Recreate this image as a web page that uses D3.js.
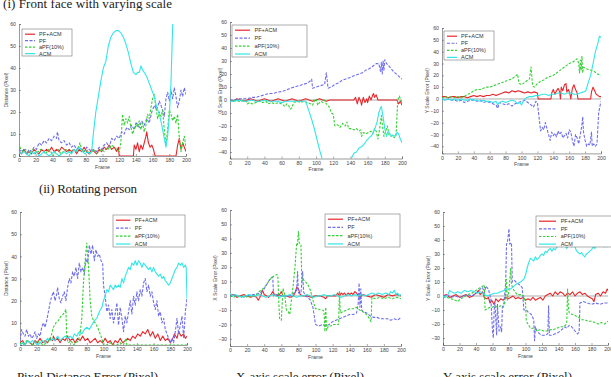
<!DOCTYPE html>
<html><head><meta charset="utf-8">
<script src="https://cdn.jsdelivr.net/npm/d3@7"></script>
<style>body{margin:0;background:#fff}svg{display:block}</style>
</head><body>
<svg id="c" width="611" height="377"></svg>
<script>
const seriesNames = ["PF+ACM","PF","aPF(10%)","ACM"];
const frameTicks = [0,20,40,60,80,100,120,140,160,180,200];
const ticksDist = [0,10,20,30,40,50,60];
const ticksTop = [-40,-30,-20,-10,0,10,20,30,40,50,60];
const ticksBot = [-30,-20,-10,0,10,20,30,40,50,60];
const titles = ["(i)  Front  face  with  varying  scale","(ii)  Rotating  person"];
const captions = ["Pixel  Distance  Error  (Pixel)","X-axis  scale  error  (Pixel)","Y-axis  scale  error  (Pixel)"];
const yLabels = ["Distance (Pixel)","X Scale Error (Pixel)","Y Scale Error (Pixel)"];

// ---- panel 1: front face, distance
const p1_pfacm=[[0,2],[3,1],[6,3],[9,1],[12,2],[15,1],[18,3],[21,2],[24,1],[27,3],[30,2],[33,3],[36,2],[39,4],[42,2],[45,3],[48,2],[51,4],[54,3],[57,2],[60,3],[63,2],[66,3],[69,1],[72,3],[75,2],[78,4],[81,2],[84,1],[87,3],[90,2],[93,1],[96,3],[99,2],[102,4],[105,3],[108,5],[111,3],[114,4],[117,2],[119,4],[120,0],[137,0],[138,5],[140,3],[142,6],[144,2],[146,5],[148,3],[150,6],[152,9],[153,11],[155,6],[157,4],[159,5],[161,3],[163,0],[188,0],[190,5],[192,8],[194,3],[196,6],[198,4],[200,2]];
const p1_pf=[[0,3],[3,2],[6,3],[9,1],[12,3],[15,2],[18,4],[21,3],[24,6],[27,5],[30,7],[33,6],[36,8],[39,7],[42,9],[45,8],[46,11],[48,7],[51,6],[54,7],[57,5],[60,6],[63,4],[66,5],[69,3],[72,4],[75,3],[78,2],[81,4],[84,3],[87,2],[90,3],[93,2],[96,4],[99,3],[102,5],[105,6],[108,4],[111,8],[114,7],[117,9],[120,8],[123,11],[126,10],[129,13],[132,12],[135,14],[138,12],[141,15],[144,13],[147,16],[150,14],[153,17],[156,15],[159,20],[162,23],[165,21],[168,25],[171,22],[174,18],[176,26],[178,29],[180,25],[182,30],[184,26],[186,31],[188,27],[190,22],[192,25],[194,30],[196,27],[198,31],[200,28]];
const p1_apf=[[0,6],[2,3],[5,2],[8,3],[11,1],[14,2],[17,3],[20,1],[23,2],[26,3],[29,2],[32,1],[35,3],[38,2],[41,0],[44,2],[47,3],[50,1],[53,2],[56,3],[59,2],[62,1],[65,3],[68,2],[71,4],[73,6],[75,3],[78,2],[81,3],[84,1],[87,2],[90,3],[93,1],[96,2],[99,3],[102,2],[105,4],[108,3],[111,5],[114,4],[117,3],[120,2],[122,6],[124,19],[126,14],[128,17],[130,15],[132,18],[134,13],[136,10],[138,12],[140,15],[142,13],[144,16],[146,12],[148,15],[150,11],[152,14],[154,19],[156,17],[158,22],[160,26],[162,28],[164,22],[166,17],[168,20],[170,18],[172,21],[174,12],[176,5],[178,12],[180,21],[182,19],[184,16],[186,18],[188,15],[190,19],[192,8],[194,2],[196,6],[198,9],[200,4]];
const p1_acm=[[0,2],[3,1],[6,2],[9,1],[12,0],[15,2],[18,1],[21,2],[24,0],[27,1],[30,2],[33,1],[36,0],[39,1],[42,2],[45,1],[48,0],[51,1],[54,2],[57,1],[60,2],[63,1],[66,3],[69,2],[72,4],[74,3],[76,2],[79,1],[82,2],[85,1],[87,2],[89,10],[92,20],[95,27],[98,34],[101,40],[104,43],[107,50],[110,54],[113,56],[116,57],[119,57],[122,56],[125,54],[128,51],[131,47],[134,42],[137,38],[140,37],[142,38],[144,38],[146,41],[148,39],[150,38],[153,36],[156,33],[159,30],[162,27],[165,22],[168,19],[171,14],[174,8],[176,4],[178,9],[180,18],[182,33],[184,59],[186,75],[190,80],[195,78],[200,76]];

// ---- panel 2: front face, X scale error
const p2_pfacm=[[0,0],[4,-1],[8,1],[12,0],[16,-1],[20,0],[24,1],[28,0],[32,-1],[36,0],[40,1],[44,0],[48,-1],[52,0],[56,1],[60,0],[64,-1],[68,0],[72,1],[76,0],[80,-1],[84,0],[88,1],[92,0],[96,-1],[100,0],[104,1],[108,0],[112,-1],[116,0],[120,0],[144,0],[146,2],[148,-3],[150,2],[152,-1],[153,-4],[155,2],[157,-2],[159,1],[160,-2],[162,3],[164,0],[166,4],[167,5],[168,2],[170,4],[172,0],[194,0],[196,-3],[198,-1],[200,-4]];
const p2_pf=[[0,0],[5,0],[10,1],[15,1],[20,1],[25,2],[30,2],[35,3],[40,4],[45,5],[50,5],[55,6],[60,6.5],[65,7.5],[70,9],[75,10],[80,11],[85,12],[90,13],[94,15],[95,16],[96,9],[100,10],[105,11],[110,12],[112,21],[114,9],[118,10],[122,12],[126,13],[130,15],[134,16],[138,17],[142,18],[146,19],[150,20],[154,21],[158,23],[162,24],[166,26],[170,28],[173,28],[175,22],[176,29],[177,20],[178,30],[179,23],[180,31],[182,28],[185,26],[190,22],[195,19],[200,16]];
const p2_apf=[[0,-1],[4,0],[8,-1],[12,-1],[16,0],[19,-1],[20,-3],[23,-2],[26,-3],[30,-2],[34,-1],[38,-2],[42,-1],[44,-3],[48,-2],[52,-3],[56,-2],[60,-3],[64,-5],[66,-3],[68,-4],[70,-7],[72,-6],[74,-2],[78,-1],[82,-2],[86,-1],[90,-2],[94,-3],[96,-4],[98,-1],[100,1],[102,-4],[104,-2],[106,-1],[108,-2],[110,0],[112,-3],[115,-5],[118,-10],[120,-11],[122,-20],[125,-19],[128,-21],[131,-18],[134,-20],[136,-17],[138,-22],[141,-22],[144,-23],[147,-22],[150,-24],[152,-23],[153,-28],[155,-25],[158,-26],[161,-25],[164,-24],[166,-26],[168,-22],[170,-24],[172,-30],[174,-22],[176,-12],[177,-18],[179,-28],[181,-24],[183,-20],[185,-27],[187,-28],[189,-27],[191,-29],[193,-27],[194,-15],[195,0],[197,3],[199,-1],[200,-2]];
const p2_acm=[[0,-1],[5,-1],[10,0],[15,-1],[20,-1],[25,0],[30,-1],[35,-1],[40,0],[45,-1],[50,-1],[55,-1],[60,-2],[65,-1],[70,-1],[75,-1],[80,-1],[85,-1],[88,-1],[91,-7],[95,-15],[98,-22],[101,-30],[104,-38],[107,-45],[110,-55],[120,-60],[130,-60],[138,-52],[141,-45],[144,-41],[147,-40],[150,-37],[153,-36],[156,-34],[159,-31],[162,-29],[165,-27],[168,-23],[171,-17],[173,-10],[175,-6],[176,-5],[178,-13],[180,-22],[182,-28],[184,-24],[186,-26],[188,-28],[190,-27],[192,-28],[194,-25],[196,-26],[198,-30],[200,-33]];

// ---- panel 3: front face, Y scale error
const p3_pfacm=[[0,2],[4,2],[8,1],[12,2],[16,2],[20,1],[24,2],[28,2],[32,1],[36,2],[40,3],[44,2],[48,3],[52,2],[56,3],[60,3],[64,4],[68,3],[72,4],[76,5],[80,6],[84,5],[88,7],[92,6],[96,7],[100,6],[104,5],[108,6],[112,5],[116,6],[120,5],[121,0],[137,0],[138,5],[140,8],[142,4],[144,7],[146,9],[148,6],[149,0],[150,10],[152,7],[154,12],[156,13],[157,6],[159,8],[161,4],[162,0],[164,9],[166,12],[168,8],[170,5],[171,0],[187,0],[188,6],[190,10],[192,7],[194,4],[196,3],[198,2],[200,2]];
const p3_pf=[[0,0],[4,-1],[8,0],[12,-1],[16,-1],[20,-2],[24,-1],[28,-3],[32,-2],[36,-1],[40,-1],[44,-2],[48,-1],[52,-3],[56,-2],[60,-3],[64,-4],[68,-5],[70,-8],[72,-3],[76,-4],[80,-5],[84,-4],[88,-6],[92,-4],[96,-3],[100,-2],[104,-1],[108,-3],[112,-5],[115,-7],[118,-2],[120,-3],[122,-15],[124,-27],[126,-24],[128,-26],[130,-20],[132,-25],[134,-30],[136,-35],[138,-28],[140,-31],[142,-29],[144,-32],[146,-27],[148,-30],[150,-28],[152,-33],[154,-31],[156,-29],[158,-33],[160,-26],[162,-28],[164,-35],[166,-40],[168,-30],[170,-33],[172,-38],[174,-30],[176,-22],[177,-15],[178,-28],[180,-35],[182,-40],[184,-38],[186,-39],[188,-28],[189,-40],[191,-38],[193,-40],[195,-38],[197,-12],[199,-5],[200,-2]];
const p3_apf=[[0,1],[4,2],[8,1],[12,2],[16,1],[20,2],[24,1],[28,2],[32,4],[36,5],[40,7],[44,8],[48,8],[52,9],[56,10],[60,10],[64,11],[68,12],[72,13],[76,14],[80,15],[84,16],[88,17],[92,19],[95,21],[97,13],[100,12],[104,14],[108,16],[110,17],[112,27],[114,11],[116,10],[120,13],[124,15],[128,16],[132,18],[136,19],[140,20],[144,22],[148,24],[152,26],[156,28],[160,30],[164,31],[168,33],[170,34],[172,30],[173,22],[174,33],[175,24],[176,36],[177,22],[178,27],[180,26],[184,25],[188,24],[192,23],[196,21],[200,20]];
const p3_acm=[[0,0],[4,-1],[8,0],[12,-1],[16,0],[20,-1],[24,0],[28,-1],[32,-1],[36,0],[40,-1],[44,-1],[48,-2],[52,-1],[56,-2],[60,-2],[64,-3],[68,-2],[70,-5],[72,-3],[76,-2],[80,-3],[84,-2],[88,-1],[92,-2],[95,-4],[98,-3],[100,-5],[103,-1],[106,1],[110,2],[114,2],[118,3],[122,3],[126,4],[130,4],[134,3],[138,4],[142,4],[146,5],[150,5],[154,4],[158,5],[162,5],[166,4],[170,4],[174,5],[178,6],[181,7],[184,14],[187,20],[190,30],[193,40],[196,47],[198,53],[200,52]];

// ---- panel 4: rotating person, distance
const p4_pfacm=[[0,1],[3,2],[6,0],[9,2],[12,1],[15,0],[18,2],[21,1],[24,3],[27,1],[30,2],[33,1],[36,3],[39,2],[40,4],[42,2],[45,3],[48,1],[51,3],[54,2],[57,4],[60,2],[63,3],[66,1],[69,3],[72,2],[75,4],[78,2],[81,3],[84,1],[87,2],[90,3],[93,1],[96,2],[99,1],[102,3],[105,1],[108,2],[111,0],[114,2],[117,1],[120,3],[123,1],[126,2],[129,3],[132,2],[135,4],[138,3],[141,5],[144,4],[147,6],[150,5],[153,7],[156,4],[159,6],[162,3],[165,5],[168,2],[171,4],[174,2],[177,3],[180,1],[183,3],[185,5],[188,3],[190,6],[193,4],[196,5],[198,3],[200,4]];
const p4_pf=[[0,2],[2,7],[4,5],[6,4],[8,7],[10,4],[12,5],[14,3],[16,4],[18,6],[20,3],[22,5],[24,4],[26,8],[28,10],[30,8],[32,11],[34,15],[36,19],[38,22],[40,24],[42,20],[44,23],[45,26],[47,21],[49,19],[51,22],[53,24],[55,20],[57,26],[59,30],[61,28],[63,33],[65,31],[67,35],[69,30],[71,37],[73,33],[75,35],[77,32],[79,39],[81,37],[83,45],[85,41],[87,45],[89,38],[91,43],[93,40],[95,41],[97,38],[99,37],[100,27],[102,22],[104,15],[106,18],[108,12],[110,16],[112,10],[114,14],[116,19],[118,9],[120,17],[122,12],[124,6],[126,13],[128,10],[130,15],[132,20],[134,14],[136,22],[138,18],[140,24],[142,20],[144,25],[146,22],[148,28],[150,30],[152,24],[154,27],[156,22],[158,24],[160,19],[162,16],[164,20],[166,13],[168,15],[170,10],[172,12],[174,7],[176,5],[178,3],[180,1],[182,3],[184,1],[186,6],[188,12],[190,5],[192,9],[194,13],[196,3],[198,15],[200,21]];
const p4_apf=[[0,1],[4,0],[8,2],[12,1],[16,0],[20,2],[24,1],[28,0],[32,1],[35,2],[38,5],[40,8],[43,10],[46,11],[49,13],[52,14],[55,16],[56,3],[58,1],[61,2],[64,0],[67,1],[70,2],[72,5],[74,12],[76,28],[78,38],[80,46],[81,40],[82,36],[84,20],[86,13],[88,11],[90,10],[93,8],[96,5],[98,3],[100,0],[104,0],[108,1],[112,0],[116,0],[120,1],[124,0],[127,3],[128,0],[140,0],[160,0],[180,0],[200,0]];
const p4_acm=[[0,0],[3,1],[6,0],[9,2],[12,1],[15,2],[18,1],[21,0],[24,1],[27,2],[30,1],[33,3],[36,2],[39,3],[42,2],[45,4],[48,2],[51,3],[54,4],[57,3],[60,4],[63,3],[65,5],[68,4],[71,6],[74,5],[77,7],[80,8],[83,7],[86,9],[89,11],[92,12],[95,15],[98,17],[100,20],[102,22],[104,25],[106,24],[108,27],[110,26],[112,25],[114,27],[116,26],[118,27],[120,26],[122,30],[124,28],[126,31],[128,33],[130,35],[132,34],[134,37],[136,36],[138,38],[140,36],[142,38],[144,37],[146,35],[148,37],[150,36],[152,35],[154,34],[156,35],[158,33],[160,35],[162,33],[164,32],[166,31],[168,32],[170,30],[172,31],[174,29],[176,28],[178,27],[180,28],[182,30],[184,32],[186,34],[188,35],[190,37],[192,36],[194,37],[196,35],[198,36],[199,35],[200,21]];

// ---- panel 5: rotating person, X scale error
const p5_pfacm=[[0,0],[4,1],[8,-1],[12,0],[16,1],[20,0],[24,-1],[28,0],[31,-1],[33,-3],[35,-1],[37,2],[38,4],[40,1],[43,0],[45,-1],[48,1],[50,3],[52,1],[55,0],[58,1],[60,3],[62,0],[66,0],[70,-1],[74,0],[76,2],[78,6],[80,5],[82,1],[85,0],[90,0],[95,-1],[100,0],[105,0],[110,-1],[112,-2],[114,0],[120,0],[124,0],[126,2],[128,0],[130,2],[132,1],[134,2],[136,0],[138,2],[140,1],[142,2],[144,1],[146,3],[148,2],[150,0],[152,-1],[155,1],[160,0],[165,-1],[170,1],[175,0],[180,-1],[185,1],[190,0],[195,1],[200,0]];
const p5_pf=[[0,0],[5,0],[10,0],[15,-1],[20,0],[25,1],[30,1],[35,2],[40,5],[43,8],[46,11],[49,13],[50,13],[51,0],[55,1],[60,0],[65,0],[70,0],[75,2],[78,4],[79,17],[80,2],[83,2],[85,17],[86,3],[88,0],[91,-1],[94,-3],[97,-8],[100,-20],[104,-21],[108,-20],[112,-21],[116,-20],[120,-18],[124,-17],[128,-16],[132,-15],[136,-14],[140,-13],[144,-13],[148,-12],[150,-5],[151,9],[152,-8],[153,5],[154,-10],[156,-11],[160,-12],[164,-14],[168,-15],[172,-15],[176,-16],[180,-16],[184,-16],[188,-17],[192,-16],[196,-17],[200,-15]];
const p5_apf=[[0,0],[4,-1],[8,0],[12,-1],[16,0],[20,-1],[24,0],[28,0],[31,1],[34,3],[37,4],[40,6],[43,8],[46,11],[49,13],[52,14],[55,15],[56,13],[57,-3],[58,-16],[60,-17],[62,5],[64,1],[66,-10],[68,-11],[70,-13],[72,-2],[74,8],[76,20],[78,37],[79,36],[80,45],[81,37],[83,36],[84,10],[85,12],[88,10],[91,8],[94,4],[97,-3],[100,-9],[103,-9],[106,-10],[109,-10],[110,-12],[111,-25],[112,-8],[113,-24],[115,-21],[118,-21],[121,-20],[124,-20],[127,-20],[128,3],[129,-12],[132,-11],[136,-10],[140,-9],[144,-9],[148,-8],[150,-9],[152,-10],[155,-11],[158,-12],[161,-14],[163,-16],[165,-18],[166,-1],[170,-2],[175,-1],[180,-2],[185,-1],[190,-2],[195,-1],[200,-2]];
const p5_acm=[[0,2],[3,0],[6,1],[10,0],[14,-1],[18,0],[22,1],[26,0],[30,0],[34,1],[38,0],[42,-1],[46,0],[50,1],[54,0],[58,-1],[62,0],[66,0],[70,1],[74,0],[78,-1],[82,0],[86,0],[90,1],[94,0],[98,-1],[102,0],[106,0],[110,1],[114,0],[118,0],[122,1],[126,0],[130,-1],[134,0],[138,1],[142,0],[146,1],[150,0],[154,1],[158,0],[162,1],[166,2],[170,1],[174,2],[178,1],[182,2],[186,1],[188,3],[190,2],[192,4],[194,1],[196,2],[198,0],[200,1]];

// ---- panel 6: rotating person, Y scale error
const p6_pfacm=[[0,0],[4,1],[8,-1],[12,0],[16,1],[20,-1],[24,0],[28,1],[32,-1],[36,0],[40,2],[43,4],[45,1],[48,3],[50,-1],[53,-2],[55,-1],[57,-5],[59,-3],[62,-6],[64,-2],[67,-4],[70,-2],[73,-3],[76,-1],[79,-2],[82,-1],[85,0],[88,-2],[91,-1],[94,-2],[97,-1],[100,-3],[103,-2],[106,-3],[109,-1],[112,-3],[115,-2],[118,-1],[121,-3],[124,0],[127,1],[130,2],[133,0],[136,3],[139,1],[142,3],[145,2],[148,0],[151,2],[154,1],[157,3],[160,0],[163,2],[166,3],[169,1],[172,2],[175,0],[178,-1],[181,-2],[183,-4],[185,1],[188,2],[191,0],[194,3],[197,2],[199,5],[200,4]];
const p6_pf=[[0,0],[5,1],[10,-1],[15,0],[20,-1],[25,0],[30,1],[35,0],[40,2],[43,3],[45,5],[48,6],[50,2],[52,7],[55,5],[58,-2],[60,-25],[61,-30],[62,-10],[63,-5],[65,-28],[66,-6],[68,-25],[70,-22],[71,-26],[72,-8],[74,-5],[76,10],[77,37],[78,38],[80,48],[81,37],[83,38],[84,10],[87,11],[90,9],[93,8],[96,6],[98,-10],[101,-10],[104,-12],[107,-13],[110,-17],[111,-32],[112,-22],[114,-25],[117,-27],[120,-28],[124,-28],[127,-27],[128,-7],[129,-28],[132,-28],[136,-27],[140,-26],[144,-24],[148,-22],[150,-23],[153,-21],[156,-22],[160,-25],[163,-27],[165,-26],[166,-5],[170,-4],[175,-5],[180,-6],[185,-5],[190,-6],[195,-5],[200,-5]];
const p6_apf=[[0,-1],[5,-1],[10,-2],[15,-3],[18,-4],[21,-2],[25,-1],[30,1],[35,2],[40,4],[45,6],[48,7],[50,8],[51,-10],[54,-9],[57,-8],[60,-8],[63,-7],[66,-8],[70,-7],[73,-8],[75,-5],[77,12],[78,-3],[80,4],[82,20],[83,8],[86,4],[90,1],[94,1],[98,0],[100,-5],[101,-18],[103,-20],[106,-23],[110,-23],[114,-25],[118,-24],[122,-25],[126,-25],[130,-24],[134,-24],[138,-23],[142,-22],[146,-22],[150,-20],[151,5],[152,-8],[153,-12],[156,-13],[160,-14],[164,-15],[168,-17],[172,-17],[176,-18],[180,-18],[184,-19],[188,-20],[192,-19],[196,-20],[200,-18]];
const p6_acm=[[0,0],[3,-1],[6,1],[8,4],[10,3],[14,2],[18,3],[22,2],[26,4],[30,3],[34,4],[38,3],[42,2],[46,3],[50,1],[54,0],[58,1],[62,2],[66,2],[70,3],[74,4],[78,5],[82,5],[86,7],[90,9],[94,10],[98,12],[100,15],[102,20],[104,24],[106,27],[108,26],[110,25],[112,28],[114,26],[116,27],[118,29],[120,30],[122,29],[124,32],[126,31],[128,33],[130,34],[132,32],[134,34],[136,33],[138,35],[140,36],[142,37],[144,35],[146,37],[148,36],[150,34],[152,36],[154,37],[156,35],[158,36],[160,35],[162,32],[164,31],[166,30],[168,31],[170,29],[172,28],[174,30],[176,31],[178,32],[180,33],[182,35],[184,34],[186,36],[188,37],[190,36],[192,38],[194,37],[196,35],[198,36],[200,35]];

// ---- styling / layout
const colors = ["#e8262b","#6d6df0","#33d033","#33e6e6"];
const dashes = [null,"3,1.5","2.5,1.5",null];

const panels = [
  {series:[p1_pfacm,p1_pf,p1_apf,p1_acm], x:[19,186], yDom:[0,60], yRng:[156,24], ticks:ticksDist, yl:0, ylx:6, leg:[22,29,50,27], zero:false},
  {series:[p2_pfacm,p2_pf,p2_apf,p2_acm], x:[230,402], yDom:[-45,60], yRng:[158.5,22], ticks:ticksTop, yl:1, ylx:220, leg:[232,25,75,32], zero:true},
  {series:[p3_pfacm,p3_pf,p3_apf,p3_acm], x:[442,601], yDom:[-46,60], yRng:[153.4,28], ticks:ticksTop, yl:2, ylx:427, leg:[444,31,50,29], zero:true},
  {series:[p4_pfacm,p4_pf,p4_apf,p4_acm], x:[20,187], yDom:[0,60], yRng:[345,212], ticks:ticksDist, yl:0, ylx:6, leg:[113,215,72,32], zero:false},
  {series:[p5_pfacm,p5_pf,p5_apf,p5_acm], x:[230,401], yDom:[-35,60], yRng:[346,210], ticks:ticksBot, yl:1, ylx:215, leg:[325,214,75,33], zero:true},
  {series:[p6_pfacm,p6_pf,p6_apf,p6_acm], x:[443,608], yDom:[-35,60], yRng:[345,212], ticks:ticksBot, yl:2, ylx:428, leg:[536,216,85,31], zero:true}
];

const svg = d3.select("#c");
const tickFont = "Liberation Sans, Arial, sans-serif";
const axisCol = "#555";

panels.forEach((p,i)=>{
  const xs = d3.scaleLinear().domain([0,200]).range(p.x);
  const ys = d3.scaleLinear().domain(p.yDom).range(p.yRng);
  const g = svg.append("g");
  const cid = "clip"+i;
  svg.append("clipPath").attr("id",cid).append("rect")
    .attr("x",p.x[0]).attr("y",p.yRng[1]).attr("width",p.x[1]-p.x[0]).attr("height",p.yRng[0]-p.yRng[1]);

  // axes
  const xa = d3.axisBottom(xs).tickValues(frameTicks).tickSize(-2).tickPadding(3).tickFormat(d3.format("d"));
  const ya = d3.axisLeft(ys).tickValues(p.ticks).tickSize(-2).tickPadding(3).tickFormat(d3.format("d"));
  const gx = g.append("g").attr("transform",`translate(0,${p.yRng[0]})`).call(xa);
  const gy = g.append("g").attr("transform",`translate(${p.x[0]},0)`).call(ya);
  [gx,gy].forEach(a=>{
    a.select(".domain").attr("stroke",axisCol).attr("stroke-width",0.6);
    a.selectAll(".tick line").attr("stroke",axisCol).attr("stroke-width",0.5);
    a.selectAll("text").attr("font-family",tickFont).attr("font-size",5.2).attr("fill","#444");
  });
  gx.selectAll("text").attr("dy","0.6em");

  // axis labels
  g.append("text").attr("x",(p.x[0]+p.x[1])/2).attr("y",p.yRng[0]+12.5)
    .attr("text-anchor","middle").attr("font-family",tickFont).attr("font-size",5.2).attr("fill","#444").text("Frame");
  const ymid=(p.yRng[0]+p.yRng[1])/2;
  g.append("text").attr("transform",`translate(${p.ylx},${ymid}) rotate(-90)`)
    .attr("text-anchor","middle").attr("dy","0.35em").attr("font-family",tickFont).attr("font-size",5).attr("fill","#444").text(yLabels[p.yl]);

  const plot = g.append("g").attr("clip-path",`url(#${cid})`);
  if(p.zero){
    plot.append("line").attr("x1",p.x[0]).attr("x2",p.x[1]).attr("y1",ys(0)).attr("y2",ys(0))
      .attr("stroke","#777").attr("stroke-width",0.6);
  }
  const line = d3.line().x(d=>xs(d[0])).y(d=>ys(d[1]));
  p.series.forEach((s,k)=>{
    plot.append("path").datum(s).attr("d",line).attr("fill","none")
      .attr("stroke",colors[k]).attr("stroke-width",1.1).attr("stroke-linejoin","round")
      .attr("stroke-dasharray",dashes[k]);
  });

  // legend
  const [lx,ly,lw,lh] = p.leg;
  const lg = g.append("g");
  lg.append("rect").attr("x",lx).attr("y",ly).attr("width",lw).attr("height",lh)
    .attr("fill","#fff").attr("stroke","#777").attr("stroke-width",0.6);
  const step = (lh-5)/3.4;
  seriesNames.forEach((nm,k)=>{
    const yy = ly+4+k*step+1.2;
    lg.append("line").attr("x1",lx+3).attr("x2",lx+3+lw*0.2).attr("y1",yy).attr("y2",yy)
      .attr("stroke",colors[k]).attr("stroke-width",1.2).attr("stroke-dasharray",dashes[k]);
    lg.append("text").attr("x",lx+6+lw*0.22).attr("y",yy).attr("dy","0.35em")
      .attr("font-family",tickFont).attr("font-size",5.5).attr("fill","#333").text(nm);
  });
});

// titles and captions
const serif = "Liberation Serif, Times New Roman, serif";
const txt = [
  {t:titles[0], x:3, y:7.5, w:169},
  {t:titles[1], x:39, y:192.5, w:98},
  {t:captions[0], x:17, y:381, w:141},
  {t:captions[1], x:236, y:381, w:128},
  {t:captions[2], x:443, y:381, w:129}
];
txt.forEach(d=>{
  svg.append("text").attr("x",d.x).attr("y",d.y).attr("font-family",serif).attr("font-size",13)
    .attr("fill","#222").attr("textLength",d.w).attr("lengthAdjust","spacing").text(d.t);
});
</script>
</body></html>
